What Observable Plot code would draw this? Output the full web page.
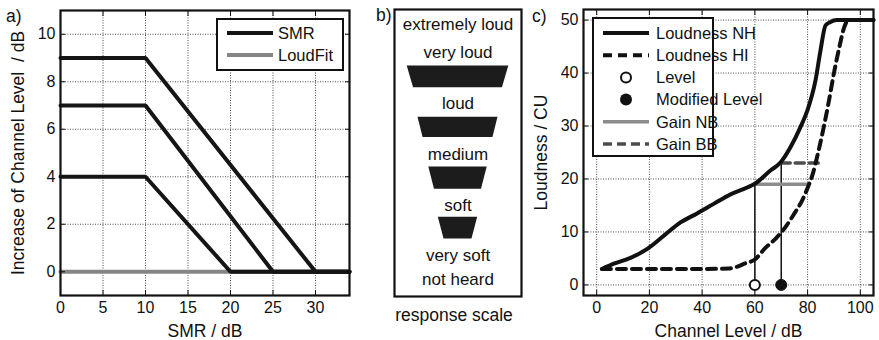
<!DOCTYPE html>
<html><head><meta charset="utf-8">
<script src="https://cdn.jsdelivr.net/npm/d3@7"></script>
<script src="https://cdn.jsdelivr.net/npm/@observablehq/plot@0.6"></script>
<style>
html,body{margin:0;padding:0;background:#fff;}
#wrap{position:relative;width:879px;height:340px;overflow:hidden;font-family:"Liberation Sans",Arial,sans-serif;}
#wrap svg{position:absolute;margin:0;}
</style></head><body><div id="wrap"></div>
<script>
// ---------- Panel a data ----------
const aXTicks = [0, 5, 10, 15, 20, 25, 30];
const aYTicks = [0, 2, 4, 6, 8, 10];
const smrX1 = [0, 10, 30, 34], smrY1 = [9, 9, 0, 0];
const smrX2 = [0, 10, 25, 34], smrY2 = [7, 7, 0, 0];
const smrX3 = [0, 10, 20, 34], smrY3 = [4, 4, 0, 0];
const loudFitX = [0, 34], loudFitY = [0, 0];

// ---------- Panel b data ----------
const respLabels = ["extremely loud", "very loud", "loud", "medium", "soft", "very soft", "not heard"];
const respPos = [5.55, 5, 4, 3, 2, 1, 0.53];
const trapTop = [4.74, 3.73, 2.75, 1.76];
const trapBottom = [4.31, 3.33, 2.31, 1.33];
const trapTopHalf = [0.80, 0.63, 0.46, 0.31];
const trapBottomHalf = [0.70, 0.55, 0.37, 0.22];

// ---------- Panel c data ----------
const cXTicks = [0, 20, 40, 60, 80, 100];
const cYTicks = [0, 10, 20, 30, 40, 50];
const nhX = [2, 6.5, 12.8, 19.2, 25.5, 31.8, 38.1, 44.4, 50.8, 57.1, 60, 65.9, 69.7, 73.5, 77.3, 79.9, 83, 84.9, 86.8, 88.5, 91, 105];
const nhY = [3, 4, 5.1, 6.8, 9.3, 11.8, 13.5, 15.3, 17.1, 18.4, 19.1, 21.6, 23.1, 26, 29.8, 32.9, 38.6, 44.3, 49, 49.6, 50, 50];
const hiX = [2, 10, 20, 30, 40, 50, 53, 56, 60, 64, 68, 72, 75, 78, 80, 82, 84, 86, 88, 90, 92, 94, 95.5, 105];
const hiY = [3, 3, 3, 3, 3, 3.1, 3.4, 4, 4.8, 7, 8.8, 11.2, 13.5, 16, 18.3, 21, 25, 29.5, 34.5, 40, 44.8, 48.8, 50, 50];
const levelX = [60], levelLoud = [19];
const modLevelX = [70], modLevelLoud = [23];
const gainNBX = [60, 80], gainNBY = [19, 19];
const gainBBX = [70, 85], gainBBY = [23, 23];

const FONT = "Liberation Sans, Arial, Helvetica, sans-serif";
const style = {fontFamily: FONT, fontSize: "16px", background: "transparent", overflow: "visible", color: "#111"};
const gridOpts = {stroke: "#222", strokeOpacity: 0.8, strokeDasharray: "1,1.5", strokeWidth: 1};
const zip = (xs, ys, extra = {}) => xs.map((x, i) => ({x, y: ys[i], ...extra}));
const wrap = document.getElementById("wrap");
const blank = () => "";

function axes(xTicks, yTicks, xLabel, yLabel) {
  return [
    Plot.axisX(xTicks, {tickSize: -5, tickPadding: 11, label: null}),
    Plot.axisX(xTicks, {tickSize: 0, tickFormat: blank, label: xLabel, labelAnchor: "center", labelOffset: 41, labelArrow: "none", fontSize: 17.5}),
    Plot.axisX(xTicks, {anchor: "top", tickSize: -5, tickFormat: blank, label: null}),
    Plot.axisY(yTicks, {tickSize: -5, tickPadding: 10, label: null}),
    Plot.axisY(yTicks, {tickSize: 0, tickFormat: blank, label: yLabel, labelAnchor: "center", labelOffset: 49, labelArrow: "none", fontSize: 17.5}),
    Plot.axisY(yTicks, {anchor: "right", tickSize: -5, tickFormat: blank, label: null})
  ];
}

// ---------- Panel a ----------
const smrRows = [...zip(smrX1, smrY1, {s: 1}), ...zip(smrX2, smrY2, {s: 2}), ...zip(smrX3, smrY3, {s: 3})];
const loudRows = zip(loudFitX, loudFitY);
const pa = Plot.plot({
  width: 360, height: 340, marginLeft: 60, marginRight: 11, marginTop: 10, marginBottom: 45,
  style,
  x: {domain: [0, 34]}, y: {domain: [-1, 11]},
  marks: [
    Plot.gridX(aXTicks, gridOpts),
    Plot.gridY(aYTicks, gridOpts),
    Plot.line(loudRows, {x: "x", y: "y", stroke: "#858585", strokeWidth: 4}),
    Plot.line(smrRows, {x: "x", y: "y", z: "s", stroke: "#151515", strokeWidth: 4, strokeLinejoin: "miter"}),
    ...axes(aXTicks, aYTicks, "SMR / dB", "Increase of Channel Level  / dB"),
    Plot.frame({stroke: "#111", strokeWidth: 2.2})
  ]
});
pa.style.left = "0px"; pa.style.top = "0px";
wrap.appendChild(pa);

// ---------- Panel b ----------
const labelRows = respLabels.map((t, i) => ({t, y: respPos[i]}));
const trapRows = [];
trapTop.forEach((t, i) => {
  trapRows.push({id: i, y: t, x1: -trapTopHalf[i], x2: trapTopHalf[i]});
  trapRows.push({id: i, y: trapBottom[i], x1: -trapBottomHalf[i], x2: trapBottomHalf[i]});
});
const pb = Plot.plot({
  width: 169, height: 340, marginLeft: 34, marginRight: 8, marginTop: 9, marginBottom: 44,
  style,
  x: {domain: [-1, 1], axis: null}, y: {domain: [0.2, 5.85], axis: null},
  marks: [
    Plot.areaX(trapRows, {y: "y", x1: "x1", x2: "x2", z: "id", fill: "#1c1c1c"}),
    Plot.text(labelRows, {x: () => 0, y: "y", text: "t", fontSize: 17, fill: "#111"}),
    Plot.frame({stroke: "#111", strokeWidth: 2.2})
  ]
});
pb.style.left = "360px"; pb.style.top = "0px";
wrap.appendChild(pb);

// ---------- Panel c ----------
const nhRows = zip(nhX, nhY), hiRows = zip(hiX, hiY);
const markerRows = [{x: levelX[0], y: levelLoud[0]}, {x: modLevelX[0], y: modLevelLoud[0]}];
const pc = Plot.plot({
  width: 349, height: 340, marginLeft: 53, marginRight: 6, marginTop: 9, marginBottom: 45,
  style,
  x: {domain: [-5, 105]}, y: {domain: [-2, 52]},
  marks: [
    Plot.gridX(cXTicks, gridOpts),
    Plot.gridY(cYTicks, gridOpts),
    Plot.ruleX(markerRows, {x: "x", y1: 0, y2: "y", stroke: "#111", strokeWidth: 1.5}),
    Plot.line(zip(gainNBX, gainNBY), {x: "x", y: "y", stroke: "#8c8c8c", strokeWidth: 3.5}),
    Plot.line(zip(gainBBX, gainBBY), {x: "x", y: "y", stroke: "#4d4d4d", strokeWidth: 3.5, strokeDasharray: "9,5"}),
    Plot.line(hiRows, {x: "x", y: "y", stroke: "#111", strokeWidth: 4, strokeDasharray: "9,6", curve: "monotone-x"}),
    Plot.line(nhRows, {x: "x", y: "y", stroke: "#111", strokeWidth: 4, curve: "monotone-x"}),
    Plot.dot([markerRows[0]], {x: "x", y: () => 0, r: 5, fill: "white", stroke: "#111", strokeWidth: 2}),
    Plot.dot([markerRows[1]], {x: "x", y: () => 0, r: 5.5, fill: "#111", stroke: "#111", strokeWidth: 1}),
    ...axes(cXTicks, cYTicks, "Channel Level / dB", "Loudness / CU"),
    Plot.frame({stroke: "#111", strokeWidth: 2.2})
  ]
});
pc.style.left = "530px"; pc.style.top = "0px";
wrap.appendChild(pc);

// ---------- Overlay: panel letters, legends, caption ----------
const ov = d3.select(wrap).append("svg").attr("width", 879).attr("height", 340)
  .style("left", "0px").style("top", "0px").style("font-family", FONT).style("font-size", "16.5px");

ov.append("text").attr("x", 6).attr("y", 22).text("a)").attr("fill", "#111").style("font-size", "17.5px");
ov.append("text").attr("x", 376).attr("y", 21).text("b)").attr("fill", "#111").style("font-size", "17.5px");
ov.append("text").attr("x", 532).attr("y", 22).text("c)").attr("fill", "#111").style("font-size", "17.5px");
ov.append("text").attr("x", 454).attr("y", 321).attr("text-anchor", "middle").text("response scale").attr("fill", "#111").style("font-size", "17.5px");

// legend a
const la = ov.append("g");
la.append("rect").attr("x", 217).attr("y", 19).attr("width", 126).attr("height", 51).attr("fill", "white").attr("stroke", "#111").attr("stroke-width", 2);
const legA = [{t: "SMR", c: "#151515"}, {t: "LoudFit", c: "#858585"}];
legA.forEach((d, i) => {
  const y = 33 + i * 22;
  la.append("line").attr("x1", 227).attr("x2", 273).attr("y1", y).attr("y2", y).attr("stroke", d.c).attr("stroke-width", 4);
  la.append("text").attr("x", 278).attr("y", y).attr("dy", "0.35em").text(d.t).attr("fill", "#111");
});

// legend c
const lc = ov.append("g");
lc.append("rect").attr("x", 593).attr("y", 18).attr("width", 120).attr("height", 138).attr("fill", "white").attr("stroke", "#111").attr("stroke-width", 2);
const legC = [
  {t: "Loudness NH", type: "line", c: "#111", dash: null, w: 4},
  {t: "Loudness HI", type: "line", c: "#111", dash: "9,6", w: 4},
  {t: "Level", type: "open"},
  {t: "Modified Level", type: "filled"},
  {t: "Gain NB", type: "line", c: "#8c8c8c", dash: null, w: 3.5},
  {t: "Gain BB", type: "line", c: "#4d4d4d", dash: "9,5", w: 3.5}
];
legC.forEach((d, i) => {
  const y = 33 + i * 22.2;
  if (d.type === "line") {
    const l = lc.append("line").attr("x1", 603).attr("x2", 649).attr("y1", y).attr("y2", y).attr("stroke", d.c).attr("stroke-width", d.w);
    if (d.dash) l.attr("stroke-dasharray", d.dash);
  } else if (d.type === "open") {
    lc.append("circle").attr("cx", 626).attr("cy", y).attr("r", 5).attr("fill", "white").attr("stroke", "#111").attr("stroke-width", 2);
  } else {
    lc.append("circle").attr("cx", 626).attr("cy", y).attr("r", 6).attr("fill", "#111");
  }
  lc.append("text").attr("x", 656).attr("y", y).attr("dy", "0.35em").text(d.t).attr("fill", "#111");
});
</script>
</body></html>
